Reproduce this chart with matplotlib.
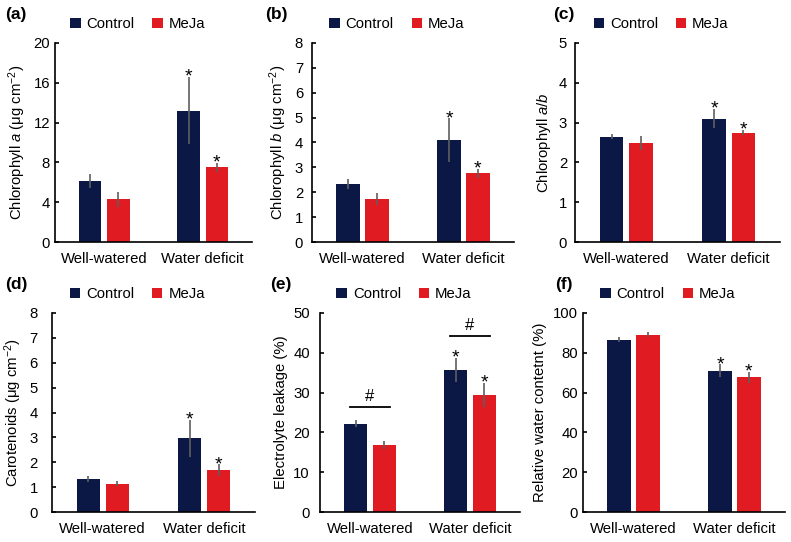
import matplotlib.pyplot as plt
import numpy as np

plt.rcParams['font.family'] = ['Liberation Sans', 'DejaVu Sans']
plt.rcParams['mathtext.fontset'] = 'custom'
plt.rcParams['mathtext.rm'] = 'Liberation Sans'
plt.rcParams['mathtext.it'] = 'Liberation Sans:italic'

groups = ['Well-watered', 'Water deficit']
series = ['Control', 'MeJa']

# (a) chlorophyll a
chla_ctrl = [6.1, 13.2]
chla_ctrl_err = [0.7, 3.4]
chla_meja = [4.3, 7.5]
chla_meja_err = [0.75, 0.45]

# (b) chlorophyll b
chlb_ctrl = [2.34, 4.1]
chlb_ctrl_err = [0.2, 0.87]
chlb_meja = [1.73, 2.76]
chlb_meja_err = [0.23, 0.18]

# (c) chlorophyll a/b
ratio_ctrl = [2.65, 3.1]
ratio_ctrl_err = [0.07, 0.24]
ratio_meja = [2.48, 2.75]
ratio_meja_err = [0.18, 0.07]

# (d) carotenoids
car_ctrl = [1.33, 2.96]
car_ctrl_err = [0.12, 0.74]
car_meja = [1.14, 1.68]
car_meja_err = [0.11, 0.23]

# (e) electrolyte leakage
el_ctrl = [22.2, 35.7]
el_ctrl_err = [0.9, 3.1]
el_meja = [16.8, 29.4]
el_meja_err = [1.0, 3.0]
el_hash = [26.5, 44.3]

# (f) relative water content
rwc_ctrl = [86.6, 71.1]
rwc_ctrl_err = [1.3, 3.2]
rwc_meja = [89.1, 67.6]
rwc_meja_err = [1.3, 3.0]

navy = '#0b1846'
red = '#e01b22'
err_color = '#5f5f5f'


def draw_panel(ax, ctrl, ctrl_err, meja, meja_err, ymax, ystep, ylabel, tickpad, hash_y=None):
    x = np.arange(len(groups))
    w = 0.23
    off = 0.143
    ax.bar(x - off, ctrl, w, color=navy, label='Control', zorder=2)
    ax.bar(x + off, meja, w, color=red, label='MeJa', zorder=2)
    ax.errorbar(x - off, ctrl, yerr=ctrl_err, fmt='none', ecolor=err_color, elinewidth=1.2, capsize=0, zorder=3)
    ax.errorbar(x + off, meja, yerr=meja_err, fmt='none', ecolor=err_color, elinewidth=1.2, capsize=0, zorder=3)

    # stars on water deficit bars
    for xs, v, e in [(1 - off, ctrl[1], ctrl_err[1]), (1 + off, meja[1], meja_err[1])]:
        ax.annotate('*', (xs, v + e), xytext=(0, -3.5), textcoords='offset points',
                    ha='center', va='baseline', fontsize=14)

    if hash_y is not None:
        for i, hy in enumerate(hash_y):
            ax.plot([i - 0.2, i + 0.2], [hy, hy], color='black', lw=1.3)
            ax.annotate('#', (i, hy), xytext=(0, 2), textcoords='offset points',
                        ha='center', va='bottom', fontsize=12)

    ax.set_xlim(-0.5, 1.5)
    ax.set_ylim(0, ymax)
    ax.set_yticks(np.arange(0, ymax + ystep / 2, ystep))
    ax.set_xticks(x)
    ax.set_xticklabels(groups)
    ax.set_ylabel(ylabel, fontsize=10.7, labelpad=4)
    for s in ['top', 'right']:
        ax.spines[s].set_visible(False)
    for s in ['left', 'bottom']:
        ax.spines[s].set_linewidth(1.2)
    ax.tick_params(axis='y', direction='in', length=3, width=1.2, labelsize=10.7, pad=tickpad * 0.72)
    ax.tick_params(axis='x', length=0, labelsize=10.7, pad=7)
    ax.legend(loc='center', bbox_to_anchor=(0.42, 1.093), ncol=2, frameon=False,
              fontsize=10.7, handlelength=0.7, handleheight=0.7, handletextpad=0.4,
              columnspacing=1.2, borderaxespad=0)


fig = plt.figure(figsize=(7.91, 5.42), dpi=100)
W, H = 791, 542


def add_axes(left, right, top, bottom):
    return fig.add_axes([left / W, 1 - bottom / H, (right - left) / W, (bottom - top) / H])


ax_a = add_axes(55, 252, 43, 242)
ax_b = add_axes(312, 514, 43, 242)
ax_c = add_axes(575, 780, 43, 242)
ax_d = add_axes(52, 255, 313, 512)
ax_e = add_axes(320, 520, 313, 512)
ax_f = add_axes(583, 785, 313, 512)

draw_panel(ax_a, chla_ctrl, chla_ctrl_err, chla_meja, chla_meja_err, 20, 4,
           r'Chlorophyll $\mathit{a}$ ($\mathrm{\mu}$g cm$^{-2}$)', 5)
draw_panel(ax_b, chlb_ctrl, chlb_ctrl_err, chlb_meja, chlb_meja_err, 8, 1,
           r'Chlorophyll $\mathit{b}$ ($\mathrm{\mu}$g cm$^{-2}$)', 9)
draw_panel(ax_c, ratio_ctrl, ratio_ctrl_err, ratio_meja, ratio_meja_err, 5, 1,
           r'Chlorophyll $\mathit{a/b}$', 8)
draw_panel(ax_d, car_ctrl, car_ctrl_err, car_meja, car_meja_err, 8, 1,
           r'Carotenoids ($\mathrm{\mu}$g cm$^{-2}$)', 14)
draw_panel(ax_e, el_ctrl, el_ctrl_err, el_meja, el_meja_err, 50, 10,
           'Electrolyte leakage (%)', 10, hash_y=el_hash)
draw_panel(ax_f, rwc_ctrl, rwc_ctrl_err, rwc_meja, rwc_meja_err, 100, 20,
           'Relative water contetnt (%)', 5)

labels = [('(a)', 5, 15), ('(b)', 265, 15), ('(c)', 553, 15),
          ('(d)', 5, 285), ('(e)', 270, 285), ('(f)', 555, 285)]
for txt, px, py in labels:
    fig.text(px / W, 1 - py / H, txt, fontsize=12.5, fontweight='bold', va='center', ha='left')

fig.savefig('out.png', dpi=100)
